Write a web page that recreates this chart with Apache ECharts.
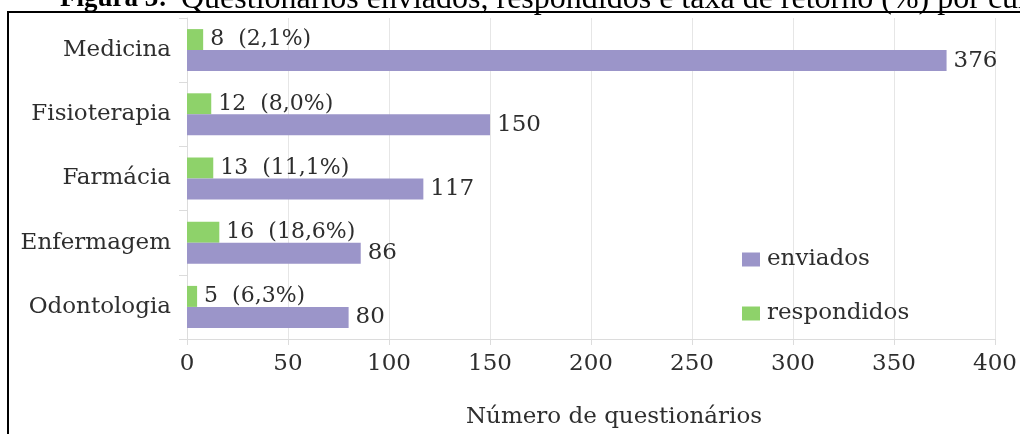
<!DOCTYPE html>
<html>
<head>
<meta charset="utf-8">
<script src="https://cdn.jsdelivr.net/npm/echarts@6/dist/echarts.min.js"></script>
<style>
html,body{margin:0;padding:0;background:#fff;}
#c{width:1020px;height:434px;}
</style>
</head>
<body>
<div id="c"></div>
<script>
const categories = ['Medicina', 'Fisioterapia', 'Farmácia', 'Enfermagem', 'Odontologia'];
const enviados = [376, 150, 117, 86, 80];
const respondidos = [8, 12, 13, 16, 5];
const taxaRetorno = ['(2,1%)', '(8,0%)', '(11,1%)', '(18,6%)', '(6,3%)'];
const xTicks = { min: 0, max: 400, interval: 50 };
const titleBold = 'Figura 3:';
const titleRest = 'Questionários enviados, respondidos e taxa de retorno (%) por curso';
const axisName = 'Número de questionários';

const FONT = '"DejaVu Serif", serif';
const TXT = '#2e2e2e';
const chart = echarts.init(document.getElementById('c'), null, { renderer: 'canvas' });
chart.setOption({
  animation: false,
  backgroundColor: '#fff',
  grid: { left: 187, right: 18, top: 18, bottom: 90, containLabel: false },
  legend: {
    orient: 'vertical',
    left: 737, top: 243,
    data: ['enviados', 'respondidos'],
    itemWidth: 18, itemHeight: 14, itemGap: 31,
    icon: 'rect',
    textStyle: { fontFamily: FONT, fontSize: 23, color: TXT, padding: [0, 0, 0, 2] }
  },
  xAxis: {
    type: 'value',
    min: xTicks.min, max: xTicks.max, interval: xTicks.interval,
    name: axisName,
    nameLocation: 'middle',
    nameGap: 67,
    nameTextStyle: { fontFamily: FONT, fontSize: 23, color: TXT, padding: [0, 0, 0, 46] },
    axisLine: { show: true, lineStyle: { color: '#dcdcdc' } },
    axisTick: { show: true, length: 6, lineStyle: { color: '#dcdcdc' } },
    axisLabel: { fontFamily: FONT, fontSize: 23, color: TXT, margin: 14 },
    splitLine: { show: true, lineStyle: { color: '#e6e6e6' } }
  },
  yAxis: {
    type: 'category',
    inverse: true,
    data: categories,
    axisLine: { show: true, lineStyle: { color: '#dcdcdc' } },
    axisTick: { show: true, length: 8, alignWithLabel: false, lineStyle: { color: '#dcdcdc' } },
    axisLabel: { fontFamily: FONT, fontSize: 23, color: TXT, margin: 16 },
    splitLine: { show: false }
  },
  series: [
    {
      name: 'respondidos', type: 'bar', data: respondidos,
      barWidth: 21, barGap: '0%',
      itemStyle: { color: '#8ed26a' },
      label: {
        show: true, position: 'right', distance: 7,
        fontFamily: FONT, fontSize: 22, color: TXT,
        formatter: p => p.value + '  ' + taxaRetorno[p.dataIndex]
      }
    },
    {
      name: 'enviados', type: 'bar', data: enviados,
      barWidth: 21, barGap: '0%',
      itemStyle: { color: '#9b95c9' },
      label: {
        show: true, position: 'right', distance: 7,
        fontFamily: FONT, fontSize: 23, color: TXT
      }
    }
  ],
  graphic: [
    { type: 'text', left: 60, top: -14, silent: true,
      style: { text: titleBold, font: 'bold 27px "Liberation Serif", serif', fill: '#000' } },
    { type: 'text', left: 181, top: -16, silent: true,
      style: { text: titleRest, font: '32px "Liberation Serif", serif', fill: '#000' } },
    { type: 'line', silent: true, shape: { x1: 7, y1: 12, x2: 1020, y2: 12 }, style: { stroke: '#000', lineWidth: 2 } },
    { type: 'line', silent: true, shape: { x1: 8, y1: 11, x2: 8, y2: 434 }, style: { stroke: '#000', lineWidth: 2 } }
  ]
});
</script>
</body>
</html>
